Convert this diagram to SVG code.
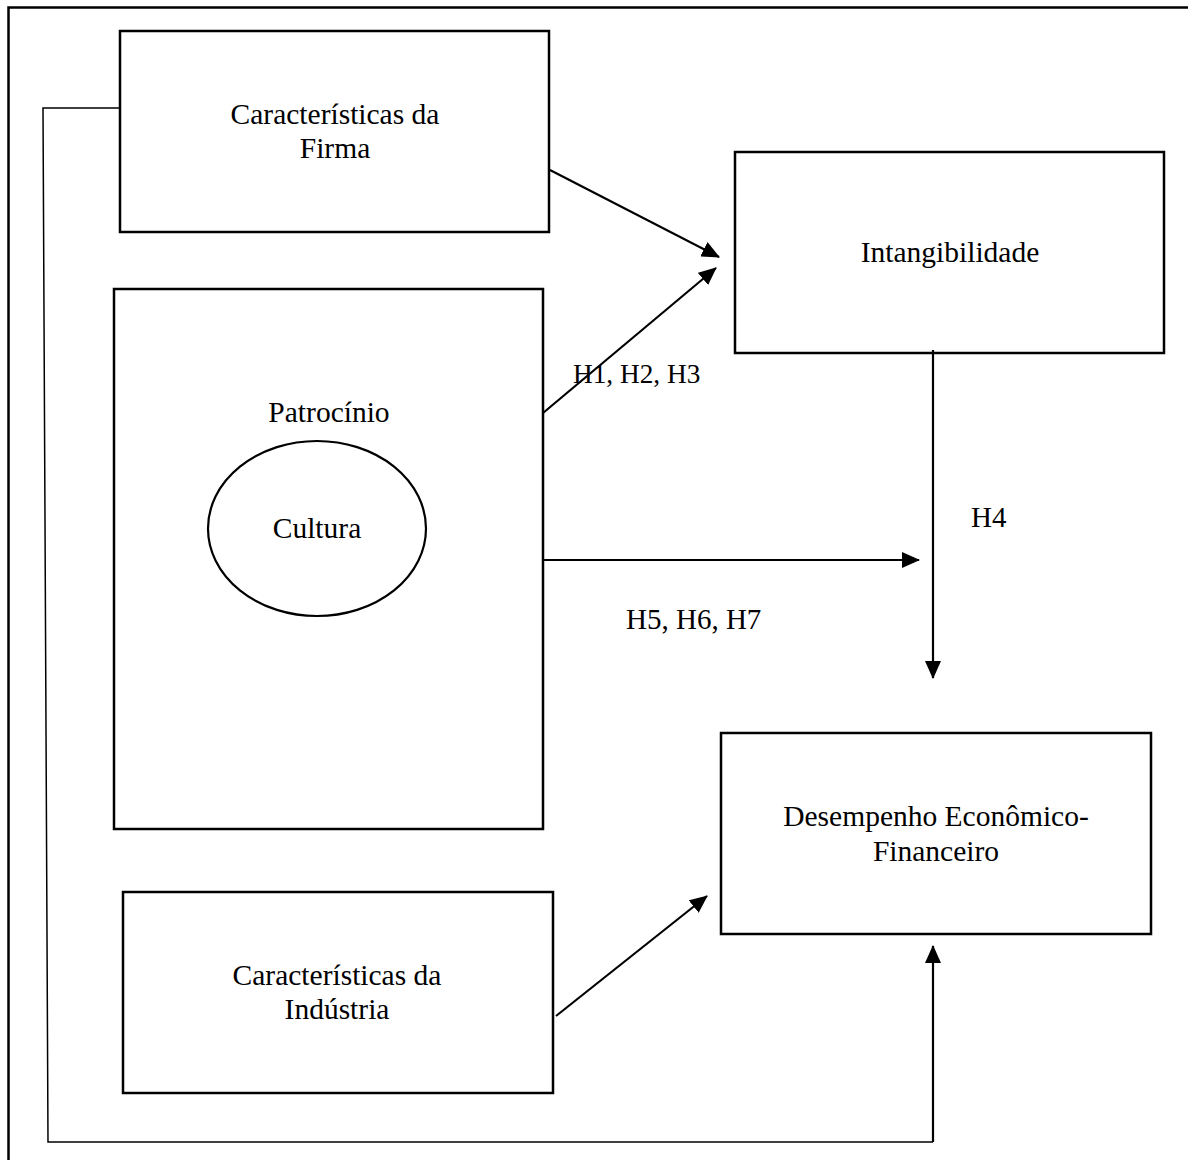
<svg xmlns="http://www.w3.org/2000/svg" width="1188" height="1160" viewBox="0 0 1188 1160">
<style>
.box{fill:#fff;stroke:#000;stroke-width:2.5}
.t{font-family:"Liberation Serif","Times New Roman",serif;font-size:29.5px;fill:#000;text-anchor:middle}
.tl{font-family:"Liberation Serif","Times New Roman",serif;font-size:29px;fill:#000}
.c{fill:none;stroke:#000;stroke-width:2.2}
.thin{fill:none;stroke:#000;stroke-width:1.5}
</style>
<defs>
<marker id="ah" markerUnits="userSpaceOnUse" markerWidth="18" markerHeight="16" refX="17" refY="8" orient="auto">
<path d="M0,0 L18,8 L0,16 Z" fill="#000"/>
</marker>
</defs>
<rect width="1188" height="1160" fill="#fff"/>
<path d="M8.5,1160 V7.5 H1188" fill="none" stroke="#000" stroke-width="2.5"/>
<g id="firma">
<rect class="box" x="120" y="31" width="429" height="201"/>
<text class="t" x="335" y="124">Características da</text>
<text class="t" x="335" y="158">Firma</text>
</g>
<g id="intangibilidade">
<rect class="box" x="735" y="152" width="429" height="201"/>
<text class="t" x="950" y="262">Intangibilidade</text>
</g>
<g id="patrocinio">
<rect class="box" x="114" y="289" width="429" height="540"/>
<text class="t" x="329" y="422">Patrocínio</text>
<g id="cultura">
<ellipse cx="317" cy="528.5" rx="109" ry="87.5" fill="none" stroke="#000" stroke-width="2.2"/>
<text class="t" x="317" y="538">Cultura</text>
</g>
</g>
<g id="desempenho">
<rect class="box" x="721" y="733" width="430" height="201"/>
<text class="t" x="936" y="826">Desempenho Econômico-</text>
<text class="t" x="936" y="861">Financeiro</text>
</g>
<g id="industria">
<rect class="box" x="123" y="892" width="430" height="201"/>
<text class="t" x="337" y="985">Características da</text>
<text class="t" x="337" y="1019">Indústria</text>
</g>
<g id="connectors">
<line class="c" x1="550" y1="170" x2="719" y2="257" marker-end="url(#ah)"/>
<line class="c" x1="543" y1="413" x2="716" y2="268" marker-end="url(#ah)"/>
<line class="c" x1="543" y1="560" x2="919" y2="560" marker-end="url(#ah)"/>
<line class="c" x1="933" y1="350" x2="933" y2="678" marker-end="url(#ah)"/>
<line class="c" x1="556" y1="1016" x2="707" y2="896" marker-end="url(#ah)"/>
<path class="thin" d="M120,108 H43 L48,1142 H933"/>
<line class="c" x1="933" y1="1142" x2="933" y2="946" marker-end="url(#ah)"/>
<text class="tl" x="573" y="383" style="font-size:27.3px">H1, H2, H3</text>
<text class="tl" x="971" y="527">H4</text>
<text class="tl" x="626" y="629">H5, H6, H7</text>
</g>
</svg>
